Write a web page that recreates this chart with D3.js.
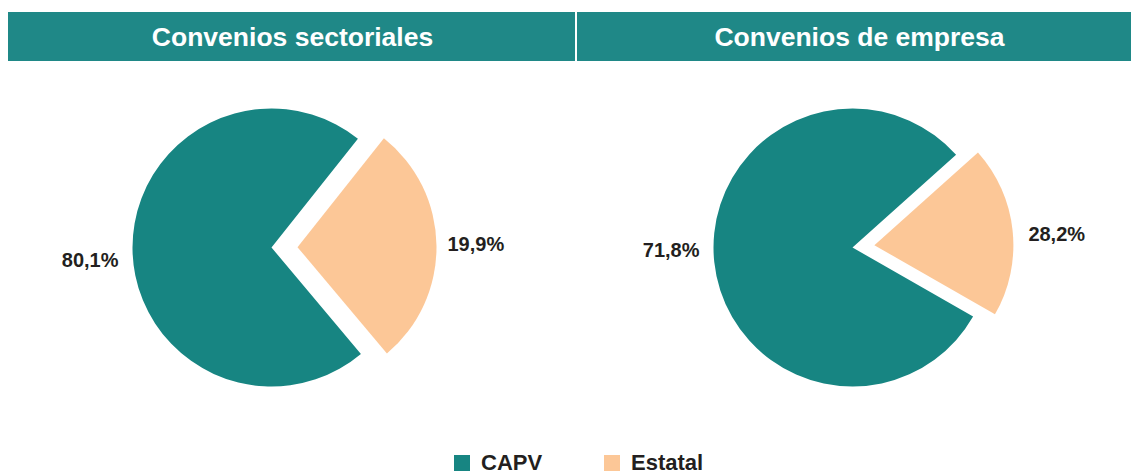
<!DOCTYPE html>
<html>
<head>
<meta charset="utf-8">
<script src="https://cdn.jsdelivr.net/npm/d3@7/dist/d3.min.js"></script>
<style>
  html, body { margin: 0; padding: 0; background: #fff; }
  svg { display: block; font-family: "Liberation Sans", Arial, Helvetica, sans-serif; }
</style>
</head>
<body>
<svg id="chart" width="1131" height="475"></svg>
<script>
// ---- Data ----
const panels = ["Convenios sectoriales", "Convenios de empresa"];
const seriesNames = ["CAPV", "Estatal"];
// Percentages printed as labels in the reference
const capvLabels = [80.1, 71.8];
const estatalLabels = [19.9, 28.2];
// Wedge sizes as actually drawn in the reference (the wedges of the two panels
// are drawn with each other's shares)
const capvDrawn = [71.8, 80.1];
const estatalDrawn = [28.2, 19.9];

// ---- Layout / style ----
const colors = { CAPV: "#178582", Estatal: "#fcc797" };
const headerColor = "#1f8887";
const textColor = "#231f20";
const radius = 139;
const pieCenters = [[271.5, 247.5], [852.5, 247.5]];
const estatalMidDeg = [89.2, 84];   // direction of the exploded wedge
const explode = [26, 22];
const labelNudgeY = [[12.5, -3.7], [2.6, -13.7]]; // vertical position of labels relative to centre
const labelGap = [[14, 11], [14, 15]];

const svg = d3.select("#chart");

// Header bars
const headerX = d3.scaleOrdinal().domain(panels).range([[8, 575], [577, 1131]]);
const titleX = [292.5, 859.5];
panels.forEach((p, i) => {
  const [x0, x1] = headerX(p);
  svg.append("rect").attr("x", x0).attr("y", 12).attr("width", x1 - x0).attr("height", 49)
    .attr("fill", headerColor);
  svg.append("text").attr("x", titleX[i]).attr("y", 46).attr("text-anchor", "middle")
    .attr("fill", "#fff").attr("font-size", 26.5).attr("font-weight", "bold").text(p);
});

const fmt = v => d3.format(".1f")(v).replace(".", ",") + "%";
const arc = d3.arc().innerRadius(0).outerRadius(radius);
const deg = Math.PI / 180;

panels.forEach((p, i) => {
  const [cx, cy] = pieCenters[i];
  const total = capvDrawn[i] + estatalDrawn[i];
  const estSpan = estatalDrawn[i] / total * 360;
  const start = (estatalMidDeg[i] + estSpan / 2) * deg; // CAPV wedge starts where Estatal ends
  const pie = d3.pie().sort(null).value(d => d.value)
    .startAngle(start).endAngle(start + 2 * Math.PI);
  const data = [
    { name: "CAPV", value: capvDrawn[i], label: capvLabels[i] },
    { name: "Estatal", value: estatalDrawn[i], label: estatalLabels[i] }
  ];
  const arcs = pie(data);
  const g = svg.append("g").attr("transform", `translate(${cx},${cy})`);
  arcs.forEach((a, j) => {
    const mid = (a.startAngle + a.endAngle) / 2;
    const off = a.data.name === "Estatal" ? explode[i] : 0;
    const ox = off * Math.sin(mid), oy = -off * Math.cos(mid);
    g.append("path").attr("d", arc(a)).attr("fill", colors[a.data.name])
      .attr("transform", `translate(${ox},${oy})`);
    const right = Math.sin(mid) > 0;
    const lx = ox + (right ? 1 : -1) * (radius + labelGap[i][j]);
    g.append("text")
      .attr("x", lx)
      .attr("y", labelNudgeY[i][j])
      .attr("dy", "0.36em")
      .attr("text-anchor", right ? "start" : "end")
      .attr("font-size", 20).attr("font-weight", "bold").attr("fill", textColor)
      .text(fmt(a.data.label));
  });
});

// Legend
const legendX = d3.scaleOrdinal().domain(seriesNames).range([454, 604]);
seriesNames.forEach(s => {
  svg.append("rect").attr("x", legendX(s)).attr("y", 455).attr("width", 16).attr("height", 16)
    .attr("fill", colors[s]);
  svg.append("text").attr("x", legendX(s) + 27).attr("y", 469.5)
    .attr("font-size", 22).attr("font-weight", "bold").attr("fill", textColor).text(s);
});
</script>
</body>
</html>
